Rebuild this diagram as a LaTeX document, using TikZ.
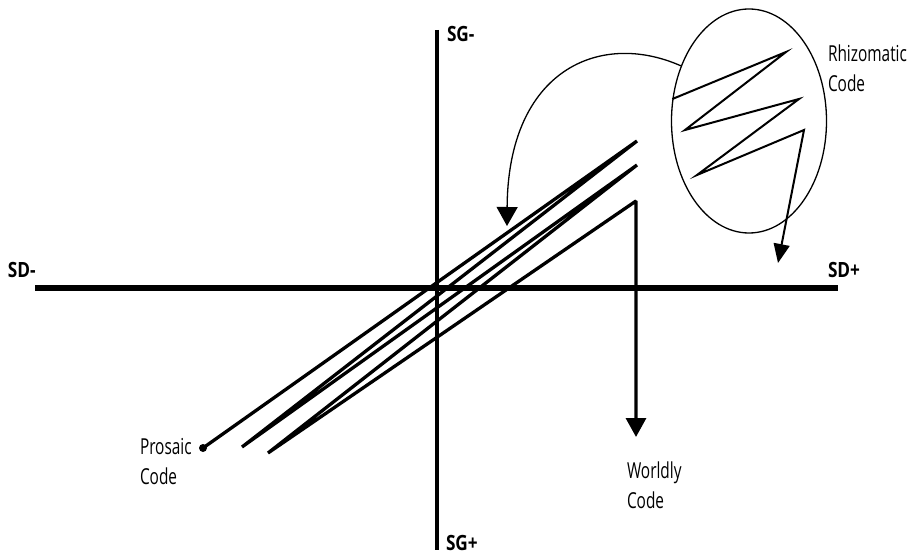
\documentclass[tikz,border=0pt]{standalone}
\usepackage{fontspec}
\setmainfont{Open Sans}
\usetikzlibrary{arrows.meta,shapes.geometric}
\begin{document}
\begin{tikzpicture}[x=1pt,y=-1pt,
  lbl/.style={font=\fontsize{22}{30}\selectfont, inner sep=0pt, outer sep=0pt, align=left, xscale=0.7, anchor=base west},
  axlbl/.style={font=\bfseries\fontsize{21}{26}\selectfont, inner sep=0pt, outer sep=0pt, xscale=0.82, anchor=base west},
  codeline/.style={line width=3.3pt, line join=bevel},
  bigtip/.style={-{Triangle[length=19pt,width=20pt]}},
  thinline/.style={line width=1.3pt}]
\useasboundingbox (0,0) rectangle (911,556);
% axes
\coordinate (xl) at (35,288);
\coordinate (xr) at (838,288);
\coordinate (yt) at (437,30);
\coordinate (yb) at (437,550);
\draw[line width=5.7pt] (xl) -- (xr);
\draw[line width=3.6pt] (yt) -- (yb);
\node[axlbl] (sdm) at (8,278) {SD-};
\node[axlbl] (sdp) at (828,278) {SD+};
\node[axlbl] (sgm) at (447,42) {SG-};
\node[axlbl] (sgp) at (446,550) {SG+};
% main code zigzag
\coordinate (p0) at (203,448);
\coordinate (p1) at (637,141);
\coordinate (p2) at (242,447);
\coordinate (p3) at (637,165);
\coordinate (p4) at (268,453);
\coordinate (p5) at (636,201);
\coordinate (p6) at (636,437);
\fill (p0) circle (4pt);
\draw[codeline,bigtip] (p0) -- (p1) -- (p2) -- (p3) -- (p4) -- (p5) -- (p6);
% rhizomatic ellipse
\node[draw, thinline, ellipse, minimum width=155pt, minimum height=224pt, inner sep=0pt] (rhizo) at (749,121) {};
\coordinate (r0) at (rhizo.164);
\coordinate (r1) at (786,52);
\coordinate (r2) at (685,130);
\coordinate (r3) at (799,99);
\coordinate (r4) at (697,175);
\coordinate (r5) at (804,130);
\coordinate (r6) at (778,263);
\draw[line width=2pt, line join=miter, -{Triangle[length=19pt,width=16pt]}] (r0) -- (r1) -- (r2) -- (r3) -- (r4) -- (r5) -- (r6);
% curved arrow
\coordinate (ctip) at (507,226);
\draw[thinline, -{Triangle[length=19pt,width=21pt]}] (rhizo.141) .. controls (600,30) and (508,70) .. (ctip);
% labels (base anchor = baseline of the last line)
\node[lbl] (prosaic) at (140,484) {Prosaic\\Code};
\node[lbl] (worldly) at (627,508) {Worldly\\Code};
\node[lbl] (rhizolbl) at (828,92) {Rhizomatic\\Code};
\end{tikzpicture}
\end{document}
